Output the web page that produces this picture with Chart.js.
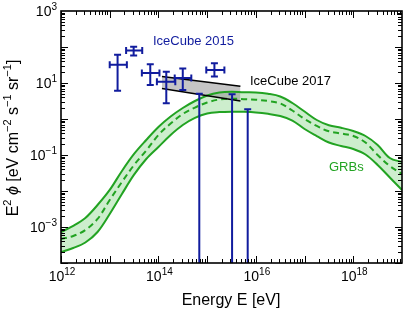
<!DOCTYPE html>
<html>
<head>
<meta charset="utf-8">
<script src="https://cdn.jsdelivr.net/npm/chart.js@4.4.0/dist/chart.umd.min.js"></script>
<style>
  html, body { margin: 0; padding: 0; background: #fff; }
  #chart { display: block; }
</style>
</head>
<body>
<canvas id="chart" width="407" height="311"></canvas>
<script>
// GRB model band, E in eV, E^2 phi in eV cm^-2 s^-1 sr^-1
const grbEnergy = [1e12, 1.78e12, 3.16e12, 5.62e12, 1e13, 1.78e13, 3.16e13, 5.62e13,
    1e14, 1.78e14, 3.16e14, 5.62e14, 1e15, 1.78e15, 3.16e15, 5.62e15,
    1e16, 1.78e16, 3.16e16, 5.62e16, 1e17, 1.78e17, 3.16e17, 5.62e17,
    1e18, 1.78e18, 3.16e18, 5.62e18, 1e19];
const grbUpper = [7.26e-4, 1.07e-3, 1.78e-3, 4.08e-3, 1.07e-2, 3.60e-2, 0.107, 0.261,
    0.600, 1.17, 2.02, 3.16, 4.50, 5.45, 5.73, 5.52,
    5.45, 5.01, 4.22, 2.78, 1.61, 0.938, 0.668, 0.570,
    0.464, 0.337, 0.190, 8.26e-2, 6.40e-2];
const grbMid = [4.65e-4, 5.62e-4, 8.26e-4, 1.67e-3, 5.62e-3, 1.78e-2, 5.27e-2, 0.133,
    0.360, 0.750, 1.38, 2.08, 2.87, 3.48, 3.66, 3.55,
    3.44, 3.16, 2.70, 1.72, 1.00, 0.640, 0.455, 0.395,
    0.337, 0.222, 0.100, 4.94e-2, 2.96e-2];
const grbLower = [2.02e-4, 2.61e-4, 3.71e-4, 7.26e-4, 2.30e-3, 8.26e-3, 2.84e-2, 7.74e-2,
    0.167, 0.360, 0.681, 1.07, 1.42, 1.56, 1.60, 1.58,
    1.52, 1.39, 1.21, 0.908, 0.527, 0.337, 0.222, 0.178,
    0.147, 0.103, 5.27e-2, 2.37e-2, 1.07e-2];

// IceCube 2015 data points with error bars
const ic15Energy = [1.45e13, 3.1e13, 6.8e13, 1.45e14, 3.16e14, 1.41e15];
const ic15EnergyLo = [1.0e13, 2.17e13, 4.57e13, 9.3e13, 2.16e14, 9.6e14];
const ic15EnergyHi = [2.25e13, 4.65e13, 1.05e14, 2.22e14, 4.73e14, 2.26e15];
const ic15Flux = [32, 80, 19, 10.8, 13.8, 23];
const ic15FluxLo = [6.1, 58, 8.8, 2.73, 6.4, 15.2];
const ic15FluxHi = [61, 101, 33, 20.6, 25.3, 35.2];

// IceCube 2015 upper limits
const ulEnergy = [6.9e14, 3.25e15, 6.8e15];
const ulFlux = [5.0, 4.9, 1.86];

// IceCube 2017 band
const ic17Energy = [1.18e14, 4.82e15];
const ic17Upper = [15.2, 8.1];
const ic17Lower = [7.0, 3.16];

// labelled ticks
const xTickValues = [1e12, 1e14, 1e16, 1e18];
const xTickExps = ['12', '14', '16', '18'];
const yTickValues = [1e3, 1e1, 1e-1, 1e-3];
const yTickExps = ['3', '1', '\u22121', '\u22123'];

const navy = '#111c9e';
const green = '#22a322';
const lightGreen = '#cdeecd';
const fontFamily = '"Liberation Sans", Arial, Helvetica, sans-serif';

const toPoints = (xs, ys) => xs.map((v, i) => ({ x: v, y: ys[i] }));

// "10" with a raised exponent, y is the base line of "10"
function drawPower(ctx, exp, x, y, align) {
    ctx.font = '14px ' + fontFamily;
    const wb = ctx.measureText('10').width;
    ctx.font = '10px ' + fontFamily;
    const we = ctx.measureText(exp).width;
    const left = align === 'right' ? x - wb - we : x - (wb + we) / 2;
    ctx.textAlign = 'left';
    ctx.textBaseline = 'alphabetic';
    ctx.font = '14px ' + fontFamily;
    ctx.fillText('10', left, y);
    ctx.font = '10px ' + fontFamily;
    ctx.fillText(exp, left + wb, y - 6.5);
}

// text made of pieces, some of them superscript
function drawRich(ctx, parts, x, y) {
    let w = 0;
    parts.forEach(p => {
        ctx.font = p.font;
        w += ctx.measureText(p.t).width;
    });
    let cx = x - w / 2;
    ctx.textAlign = 'left';
    parts.forEach(p => {
        ctx.font = p.font;
        ctx.fillText(p.t, cx, y - (p.up || 0));
        cx += ctx.measureText(p.t).width;
    });
}

const errorBars = {
    id: 'errorBars',
    afterDatasetsDraw(chart) {
        const { ctx, chartArea: a, scales: { x, y } } = chart;
        ctx.save();
        ctx.beginPath();
        ctx.rect(a.left, a.top, a.right - a.left, a.bottom - a.top);
        ctx.clip();
        ctx.strokeStyle = navy;
        ctx.lineWidth = 2;
        const cap = 3.5;
        ic15Energy.forEach((e, i) => {
            const px = x.getPixelForValue(e);
            const py = y.getPixelForValue(ic15Flux[i]);
            const x0 = x.getPixelForValue(ic15EnergyLo[i]);
            const x1 = x.getPixelForValue(ic15EnergyHi[i]);
            const y0 = y.getPixelForValue(ic15FluxLo[i]);
            const y1 = y.getPixelForValue(ic15FluxHi[i]);
            ctx.beginPath();
            ctx.moveTo(x0, py); ctx.lineTo(x1, py);
            ctx.moveTo(px, y0); ctx.lineTo(px, y1);
            ctx.moveTo(x0, py - cap); ctx.lineTo(x0, py + cap);
            ctx.moveTo(x1, py - cap); ctx.lineTo(x1, py + cap);
            ctx.moveTo(px - cap, y0); ctx.lineTo(px + cap, y0);
            ctx.moveTo(px - cap, y1); ctx.lineTo(px + cap, y1);
            ctx.stroke();
        });
        // upper limits run down off the plot
        ulEnergy.forEach((e, i) => {
            const px = x.getPixelForValue(e);
            const py = y.getPixelForValue(ulFlux[i]);
            ctx.beginPath();
            ctx.moveTo(px, py); ctx.lineTo(px, a.bottom + 5);
            ctx.moveTo(px - cap, py); ctx.lineTo(px + cap, py);
            ctx.stroke();
        });
        ctx.restore();
    }
};

const frame = {
    id: 'frame',
    afterDraw(chart) {
        const { ctx, chartArea: a, scales: { x, y } } = chart;
        ctx.save();
        ctx.strokeStyle = '#000';
        ctx.lineWidth = 1;
        ctx.beginPath();
        for (let d = 12; d < 19; d++) {
            for (let m = 1; m <= 9; m++) {
                const px = Math.round(x.getPixelForValue(m * Math.pow(10, d))) + 0.5;
                const len = m === 1 ? 7 : 4;
                ctx.moveTo(px, a.bottom); ctx.lineTo(px, a.bottom - len);
                ctx.moveTo(px, a.top); ctx.lineTo(px, a.top + len);
            }
        }
        for (let d = -4; d < 3; d++) {
            for (let m = 1; m <= 9; m++) {
                const py = Math.round(y.getPixelForValue(m * Math.pow(10, d))) + 0.5;
                const len = m === 1 ? 7 : 4;
                ctx.moveTo(a.left, py); ctx.lineTo(a.left + len, py);
                ctx.moveTo(a.right, py); ctx.lineTo(a.right - len, py);
            }
        }
        ctx.stroke();
        ctx.lineWidth = 1.6;
        ctx.strokeRect(a.left, a.top, a.right - a.left, a.bottom - a.top);

        // tick labels
        ctx.fillStyle = '#000';
        xTickValues.forEach((v, i) => {
            drawPower(ctx, xTickExps[i], x.getPixelForValue(v) + 1, a.bottom + 18, 'center');
        });
        yTickValues.forEach((v, i) => {
            drawPower(ctx, yTickExps[i], a.left - 4, y.getPixelForValue(v) + 5, 'right');
        });

        // axis titles
        const f = '16px ' + fontFamily;
        const s = '11px ' + fontFamily;
        ctx.textBaseline = 'alphabetic';
        drawRich(ctx, [{ t: 'Energy E [eV]', font: f }], 231, 305);
        ctx.save();
        ctx.translate(18, 138);
        ctx.rotate(-Math.PI / 2);
        drawRich(ctx, [
            { t: 'E', font: f },
            { t: '2', font: s, up: 7 },
            { t: ' ', font: f },
            { t: '\u03d5', font: 'italic ' + f },
            { t: ' [eV cm', font: f },
            { t: '\u22122', font: s, up: 7 },
            { t: ' s', font: f },
            { t: '\u22121', font: s, up: 7 },
            { t: ' sr', font: f },
            { t: '\u22121', font: s, up: 7 },
            { t: ']', font: f }
        ], 0, 0);
        ctx.restore();

        // in-plot labels
        ctx.font = '13px ' + fontFamily;
        ctx.textAlign = 'left';
        ctx.fillStyle = navy;
        ctx.fillText('IceCube 2015', 153, 45);
        ctx.fillStyle = '#000';
        ctx.fillText('IceCube 2017', 250, 84.5);
        ctx.fillStyle = green;
        ctx.fillText('GRBs', 329, 171);
        ctx.restore();
    }
};

new Chart(document.getElementById('chart'), {
    type: 'line',
    data: {
        datasets: [
            {
                label: 'GRB upper',
                data: toPoints(grbEnergy, grbUpper),
                borderColor: green,
                borderWidth: 2,
                backgroundColor: lightGreen,
                fill: '+1',
                order: 4,
            },
            {
                label: 'GRB lower',
                data: toPoints(grbEnergy, grbLower),
                borderColor: green,
                borderWidth: 2,
                fill: false,
                order: 5,
            },
            {
                label: 'GRB',
                data: toPoints(grbEnergy, grbMid),
                borderColor: green,
                borderWidth: 2,
                borderDash: [6, 4],
                fill: false,
                order: 3,
            },
            {
                label: 'IceCube 2017 upper',
                data: toPoints(ic17Energy, ic17Upper),
                borderColor: '#000',
                borderWidth: 1.5,
                backgroundColor: 'rgba(150,150,150,0.55)',
                fill: '+1',
                tension: 0,
                order: 1,
            },
            {
                label: 'IceCube 2017 lower',
                data: toPoints(ic17Energy, ic17Lower),
                borderColor: '#000',
                borderWidth: 1.5,
                fill: false,
                tension: 0,
                order: 2,
            },
        ],
    },
    options: {
        responsive: false,
        animation: false,
        devicePixelRatio: 1,
        layout: { padding: { left: 61, top: 11, right: 5, bottom: 48 } },
        elements: { point: { radius: 0 }, line: { tension: 0.35 } },
        plugins: {
            legend: { display: false },
            tooltip: { enabled: false },
            filler: { drawTime: 'beforeDatasetsDraw' },
        },
        scales: {
            x: { type: 'logarithmic', min: 1e12, max: 1e19, display: false },
            y: { type: 'logarithmic', min: 1e-4, max: 1e3, display: false },
        },
    },
    plugins: [errorBars, frame],
});
</script>
</body>
</html>
